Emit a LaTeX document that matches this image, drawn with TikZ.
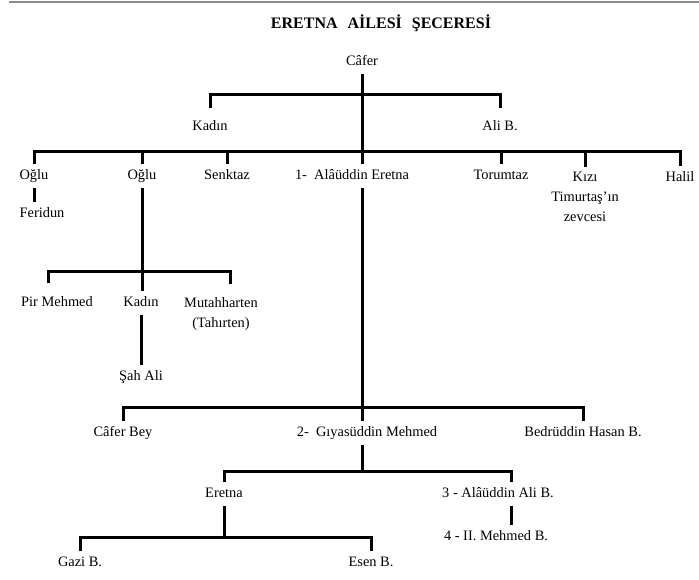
\documentclass[tikz,border=0pt]{standalone}
\usepackage{fontspec}
\setmainfont{Liberation Serif}
\usepackage{tikz}

\newcommand{\namefont}{\fontsize{14.4}{20}\selectfont}

\begin{document}
\begin{tikzpicture}[x=1pt, y=-1pt,
    member/.style={font=\namefont, inner xsep=1pt, inner ysep=5pt, text height=10pt, text depth=3pt},
    memberlines/.style={font=\namefont, inner xsep=1pt, inner ysep=5pt, align=center, anchor=north},
    link/.style={line width=3pt}]
    \useasboundingbox (0,0) rectangle (699,580);
    \draw[black!45, line width=1.2pt] (9,2) -- (699,2);

    \node[font=\fontsize{16}{18}\selectfont\bfseries] (title) at (381,23) {ERETNA\hspace{10pt}AİLESİ\hspace{10pt}ŞECERESİ};

    \node[member] (cafer) at (362,62) {Câfer};
    \node[member] (kadin1) at (210,127) {Kadın};
    \node[member] (ali) at (500,127) {Ali B.};

    % children of Cafer
    \node[member] (oglu1) at (34,176) {Oğlu};
    \node[member] (oglu2) at (142,176) {Oğlu};
    \node[member] (senktaz) at (227,176) {Senktaz};
    \node[member] (eretna1) at (352,176) {1-~~Alâüddin Eretna};
    \node[member] (torumtaz) at (501,176) {Torumtaz};
    \node[memberlines] (kizi) at (585,167) {Kızı\\Timurtaş'ın\\zevcesi};
    \node[member] (halil) at (680,178) {Halil};
    \node[member] (feridun) at (42,214) {Feridun};

    \node[member] (pir) at (57,303) {Pir Mehmed};
    \node[member] (kadin2) at (141,303) {Kadın};
    \node[memberlines] (mutah) at (221,292) {Mutahharten\\(Tahırten)};
    \node[member] (sahali) at (141,377) {Şah Ali};

    % line of Eretna
    \node[member] (caferbey) at (123,433) {Câfer Bey};
    \node[member] (giyas) at (367,433) {2-~~Gıyasüddin Mehmed};
    \node[member] (bedr) at (583,433) {Bedrüddin Hasan B.};
    \node[member] (eretna2) at (224,494) {Eretna};
    \node[member] (alali) at (498,494) {3 - Alâüddin Ali B.};
    \node[member] (mehmed2) at (496,537) {4 - II. Mehmed B.};
    \node[member] (gazi) at (80,563) {Gazi B.};
    \node[member] (esen) at (371,563) {Esen B.};

    \coordinate (j1) at (362,95);
    \coordinate (j2) at (362,152);
    \coordinate (j3) at (142,272);
    \coordinate (j4) at (362,407);
    \coordinate (j5) at (362,471);
    \coordinate (j6) at (224,537);

    \draw[link] (cafer) -- (cafer |- eretna1.north);
    \draw[link, shorten <=7pt, shorten >=7pt] (kadin1.north) |- (j1) -| (ali.north);
    \draw[link] (oglu1.north) |- (j2) -| (halil.north);
    \foreach \n in {oglu2, senktaz, torumtaz, kizi}
        \draw[link] (\n.north) -- (\n.north |- j2);
    \draw[link] (oglu1) -- (oglu1 |- feridun.north);

    \draw[link] (oglu2) -- (oglu2 |- kadin2.north);
    \draw[link, shorten <=8pt, shorten >=8pt] ([xshift=-9pt]pir.north) |- (j3) -| ([xshift=9pt]mutah.north);
    \draw[link] (kadin2) -- (sahali);

    \draw[link] (cafer |- eretna1.south) -- (j4);
    \draw[link] (caferbey.north) |- (j4) -| (bedr.north);
    \draw[link] (j4) -- (giyas.north -| j4);
    \draw[link] (giyas.south -| j4) -- (j5);
    \draw[link] (eretna2.north) |- (j5) -| ([xshift=13pt]alali.north);
    \draw[link] ([xshift=13pt]alali.south) -- ([xshift=13pt]alali.south |- mehmed2.north);
    \draw[link] (eretna2) -- (j6);
    \draw[link] (gazi.north) |- (j6) -| (esen.north);
\end{tikzpicture}
\end{document}
